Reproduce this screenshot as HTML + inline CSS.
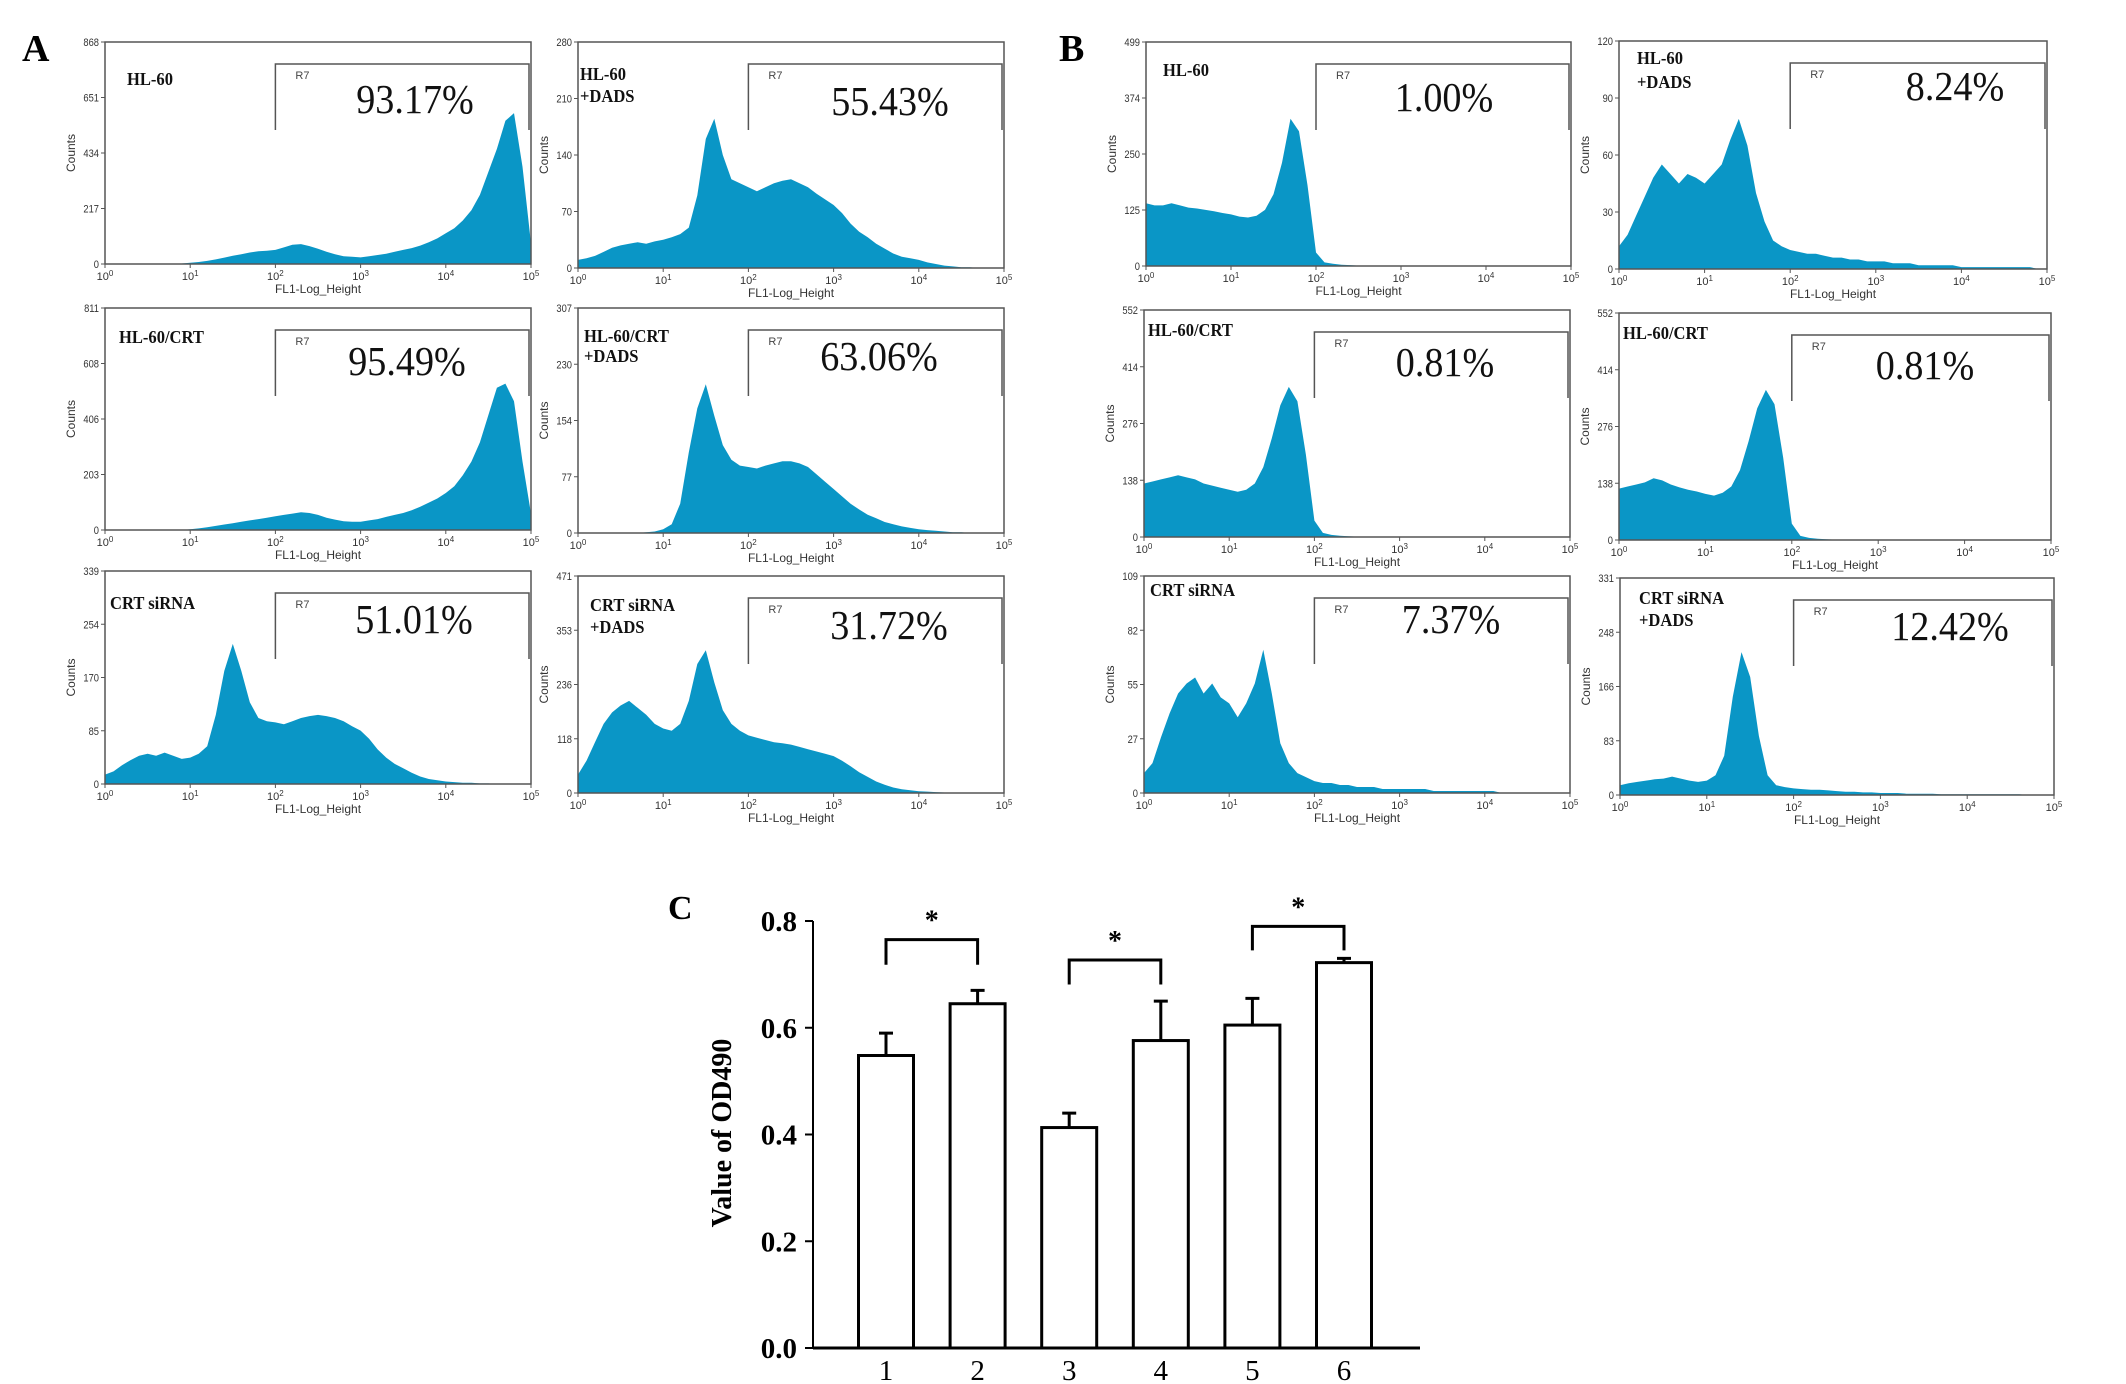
<!DOCTYPE html>
<html><head><meta charset="utf-8"><style>
html,body{margin:0;padding:0;background:#fff;overflow:hidden;}
svg{display:block;}
</style></head><body>
<svg id="fig" width="2126" height="1384" viewBox="0 0 2126 1384" xmlns="http://www.w3.org/2000/svg" font-family="'Liberation Sans', sans-serif">
<text x="22" y="61" font-family="'Liberation Serif', serif" font-weight="bold" font-size="38">A</text>
<text x="1059" y="61" font-family="'Liberation Serif', serif" font-weight="bold" font-size="38">B</text>
<text x="668" y="919" font-family="'Liberation Serif', serif" font-weight="bold" font-size="34">C</text>
<g id="hists"></g>
<g id="bars"></g>
</svg>
<script>
// ---------- Histogram data (counts per 0.1-decade bin, log10 x from 0 to 5) ----------
const histTitles = [["HL-60"],["HL-60","+DADS"],["HL-60/CRT"],["HL-60/CRT","+DADS"],["CRT siRNA"],["CRT siRNA"," +DADS"],
  ["HL-60"],["HL-60","+DADS"],["HL-60/CRT"],["HL-60/CRT"],["CRT siRNA"],["CRT siRNA"," +DADS"]];
const histYMax = [868,280,811,307,339,471,499,120,552,552,109,331];
const histPercent = ["93.17%","55.43%","95.49%","63.06%","51.01%","31.72%","1.00%","8.24%","0.81%","0.81%","7.37%","12.42%"];
const histA1 = [0,0,0,0,0,0,0,0,0,2,5,8,12,18,25,32,38,45,50,52,55,65,75,78,70,60,48,38,30,28,26,30,35,40,48,55,62,72,85,100,120,140,170,210,270,360,450,560,590,380,80];
const histA2 = [10,12,15,20,25,28,30,32,30,33,35,38,42,50,90,160,185,140,110,105,100,95,100,105,108,110,105,100,92,85,78,68,55,45,38,30,24,18,14,12,10,7,5,3,2,1,1,0,0,0,0];
const histA3 = [0,0,0,0,0,0,0,0,0,0,3,6,10,15,20,25,30,35,40,45,50,55,60,65,62,55,45,38,32,30,30,35,40,48,55,62,72,85,100,115,135,160,200,250,320,420,520,535,470,250,60];
const histA4 = [0,0,0,0,0,0,0,0,1,2,5,12,40,110,170,203,160,120,100,92,90,88,92,95,98,98,95,90,80,70,60,50,40,32,25,20,15,12,9,7,5,4,3,2,1,1,0,0,0,0,0];
const histA5 = [15,20,30,38,45,48,45,50,45,40,42,48,60,110,180,223,180,130,105,100,98,95,100,105,108,110,108,105,100,92,85,72,55,42,32,25,18,12,8,6,4,3,2,2,1,1,0,0,0,0,0];
const histA6 = [40,70,110,150,175,190,200,185,170,150,140,135,150,200,280,310,240,180,150,135,125,120,115,110,108,105,100,95,90,85,80,70,58,45,35,25,18,12,8,6,4,3,2,1,1,0,0,0,0,0,0];
const histB1 = [140,135,135,140,135,130,128,125,122,118,115,110,108,112,125,160,230,328,300,180,30,8,5,3,2,1,1,1,0,0,0,0,0,0,0,0,0,0,0,0,0,0,0,0,0,0,0,0,0,0,0];
const histB2 = [12,18,28,38,48,55,50,45,50,48,45,50,55,68,79,65,40,25,15,12,10,9,8,8,7,6,6,5,5,4,4,4,3,3,3,2,2,2,2,2,1,1,1,1,1,1,1,1,1,0,0];
const histB3 = [130,135,140,145,150,145,140,130,125,120,115,110,115,130,170,240,320,365,330,200,40,10,5,3,2,1,1,0,0,0,0,0,0,0,0,0,0,0,0,0,0,0,0,0,0,0,0,0,0,0,0];
const histB4 = [125,130,135,140,150,145,135,128,122,118,112,108,115,130,170,240,320,365,330,200,40,10,5,3,2,1,1,0,0,0,0,0,0,0,0,0,0,0,0,0,0,0,0,0,0,0,0,0,0,0,0];
const histB5 = [10,15,28,40,50,55,58,50,55,48,45,38,45,55,72,50,25,15,10,8,6,5,5,4,4,3,3,3,2,2,2,2,2,2,1,1,1,1,1,1,1,1,0,0,0,0,0,0,0,0,0];
const histB6 = [15,18,20,22,24,25,28,25,22,20,22,30,60,150,218,180,90,30,15,12,10,9,8,8,7,6,5,5,4,4,3,3,3,2,2,2,2,1,1,1,1,1,1,1,1,1,1,0,0,0,0];
const histSeries = [histA1,histA2,histA3,histA4,histA5,histA6,histB1,histB2,histB3,histB4,histB5,histB6];
const xTickExps = [0,1,2,3,4,5];
const gateStartExp = 2;

// ---------- Layout (positions, not data) ----------
const boxes = [[105,531,42,264],[578,1004,42,268],[105,531,308,530],[578,1004,308,533],[105,531,571,784],[578,1004,576,793],
  [1146,1571,42,266],[1619,2047,41,269],[1144,1570,310,537],[1619,2051,313,540],[1144,1570,576,793],[1620,2054,578,795]];
const titlePos = [[22,43,0],[2,38,22],[14,35,0],[6,34,20],[5,38,0],[12,35,22],[17,34,0],[18,23,24],[4,26,0],[4,26,0],[6,20,0],[19,26,22]];
const pctPos = [[415,113],[890,115],[407,375],[879,370],[414,633],[889,639],[1444,111],[1955,100],[1445,376],[1925,379],[1451,633],[1950,640]];

const NS = "http://www.w3.org/2000/svg";
function mk(tag, attrs, parent){ const e=document.createElementNS(NS,tag); for(const k in attrs) e.setAttribute(k,attrs[k]); parent.appendChild(e); return e; }
const hg = document.getElementById('hists');
const ids = ['a1','a2','a3','a4','a5','a6','b1','b2','b3','b4','b5','b6'];

histSeries.forEach((vals, p) => {
  const [L,R,T,B] = boxes[p];
  const g = mk('g',{},hg);
  
  
  const xs = e => L + (R-L)*e/5;
  const ys = v => B - (B-T)*v/histYMax[p];
  let d = 'M'+L+','+B;
  vals.forEach((v,i)=>{
    d += ' L'+xs(i/10).toFixed(1)+','+ys(v).toFixed(1);
  });
  d += ' L'+R+','+B+' Z';
  const area = mk('path',{d:d, fill:'#0a96c6', stroke:'none'},g);
  
  
  const fr = mk('path',{d:`M${L},${B} L${L},${T} L${R},${T} L${R},${B} Z`, fill:'none', stroke:'#555', 'stroke-width':1.5},g);
  
  
  for(let k=0;k<=4;k++){
    const v = histYMax[p]*k/4, y = B-(B-T)*k/4;
    mk('line',{x1:L-4,x2:L,y1:y,y2:y,stroke:'#555','stroke-width':1},g);
    const t = mk('text',{x:0,y:0,'text-anchor':'end','font-size':11,fill:'#333',transform:`translate(${L-6},${y+4}) scale(0.85,1)`},g);
    t.textContent = Math.round(v);
    
    
  }
  const yl = mk('text',{x:0,y:0,'text-anchor':'middle','font-size':12,fill:'#333',transform:`translate(${L-30},${(T+B)/2}) rotate(-90)`},g);
  yl.textContent='Counts';
  
  
  xTickExps.forEach(e=>{
    const x = xs(e);
    mk('line',{x1:x,x2:x,y1:B,y2:B+4,stroke:'#555','stroke-width':1},g);
    const t = mk('text',{x:x,y:B+16,'text-anchor':'middle','font-size':11,fill:'#333'},g);
    t.innerHTML = '10<tspan font-size="8" dy="-4">'+e+'</tspan>';
    
    
  });
  const xl = mk('text',{x:(L+R)/2,y:B+29,'text-anchor':'middle','font-size':12,fill:'#333'},g);
  xl.textContent='FL1-Log_Height';
  
  
  const gx = xs(gateStartExp);
  const gate = mk('path',{d:`M${gx},${T+88} L${gx},${T+22} L${R-2},${T+22} L${R-2},${T+88}`, fill:'none', stroke:'#555','stroke-width':1.5},g);
  
  
  const r7 = mk('text',{x:gx+20,y:T+37,'font-size':11,fill:'#444'},g);
  r7.textContent='R7';
  
  
  const [px,py] = pctPos[p];
  const pt = mk('text',{x:0,y:0,'text-anchor':'middle','font-size':41,'font-family':"'Liberation Serif', serif",fill:'#111',transform:`translate(${px},${py}) scale(0.93,1)`},g);
  pt.textContent = histPercent[p];
  
  
  const [tx,ty,dy2] = titlePos[p];
  histTitles[p].forEach((line,li)=>{
    const tt = mk('text',{x:0,y:0,'font-size':18,'font-weight':'bold','font-family':"'Liberation Serif', serif",fill:'#111',transform:`translate(${L+tx},${T+ty+li*dy2}) scale(0.92,1)`},g);
    tt.textContent=line;
    
    
  });
});

// ---------- Bar chart C ----------
const barCategories = ["1","2","3","4","5","6"];
const barValues = [0.548,0.645,0.413,0.576,0.605,0.722];
const barErrors = [0.042,0.025,0.027,0.074,0.050,0.008];
const yTicks = [0.0,0.2,0.4,0.6,0.8];
const sigPairs = [[0,1],[2,3],[4,5]];
const sigBracketLevels = [0.765,0.727,0.79];
const sigLegLevels = [0.718,0.681,0.745];

const bg = document.getElementById('bars');
const X0 = 813, XEND = 1420, Y0 = 1348, YTOP = 921;
const yv = v => Y0 - (Y0-YTOP)*v/0.8;
const xc = i => 886 + i*91.6;
const BW = 55;
const yax = mk('line',{x1:X0,x2:X0,y1:YTOP,y2:Y0,stroke:'#000','stroke-width':2},bg);


yTicks.forEach(v=>{
  const y = yv(v);
  mk('line',{x1:X0-8,x2:X0,y1:y,y2:y,stroke:'#000','stroke-width':2},bg);
  const t = mk('text',{x:X0-16,y:y+10,'text-anchor':'end','font-size':29,'font-weight':'bold','font-family':"'Liberation Serif', serif"},bg);
  t.textContent = v.toFixed(1);
  
  
});
const ytl = mk('text',{x:0,y:0,'text-anchor':'middle','font-size':28,'font-weight':'bold','font-family':"'Liberation Serif', serif",transform:`translate(${731},${1133}) rotate(-90)`},bg);
ytl.textContent='Value of OD490';


barValues.forEach((v,i)=>{
  const x = xc(i);
  const r = mk('rect',{x:x-BW/2,y:yv(v),width:BW,height:Y0-yv(v),fill:'#fff',stroke:'#000','stroke-width':3},bg);
  
  
  const et = yv(v+barErrors[i]);
  const eb = mk('path',{d:`M${x},${yv(v)} L${x},${et} M${x-7},${et} L${x+7},${et}`,stroke:'#000','stroke-width':3,fill:'none'},bg);
  
  
  const t = mk('text',{x:x,y:1380,'text-anchor':'middle','font-size':29,'font-family':"'Liberation Serif', serif"},bg);
  t.textContent = barCategories[i];
  
  
});
const xax = mk('line',{x1:X0,x2:XEND,y1:Y0,y2:Y0,stroke:'#000','stroke-width':3},bg);


sigPairs.forEach((pr,k)=>{
  const xa = xc(pr[0]), xb = xc(pr[1]), yt = yv(sigBracketLevels[k]), yl2 = yv(sigLegLevels[k]);
  const br = mk('path',{d:`M${xa},${yl2} L${xa},${yt} L${xb},${yt} L${xb},${yl2}`,stroke:'#000','stroke-width':3,fill:'none'},bg);
  
  
  const st = mk('text',{x:(xa+xb)/2,y:yt-10,'text-anchor':'middle','font-size':28,'font-weight':'bold','font-family':"'Liberation Serif', serif"},bg);
  st.textContent='*';
  
  
});
</script>
</body></html>
